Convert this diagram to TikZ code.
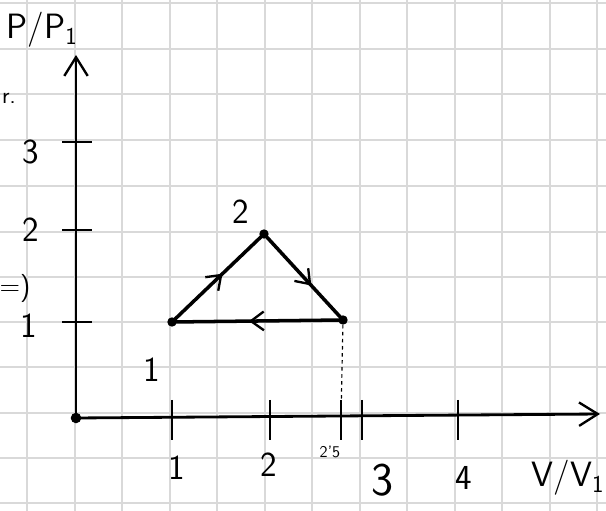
\documentclass[tikz,border=0pt]{standalone}
\usetikzlibrary{arrows.meta,decorations.markings}
\begin{document}
\begin{tikzpicture}[x=0.03cm,y=-0.03cm,
  gridline/.style={draw=black!15,line width=1pt},
  axisline/.style={line width=2.4pt,-{Straight Barb[length=16pt,width=20pt,line width=2pt]}},
  tickmark/.style={line width=2pt},
  cycleedge/.style={line width=3pt},
  statept/.style={circle,fill=black,inner sep=0pt,minimum size=8pt},
  hand/.style={font=\fontsize{30}{34}\selectfont\sffamily,inner sep=1pt},
  smallhand/.style={font=\fontsize{14}{16}\selectfont\sffamily,inner sep=1pt},
  midarrow/.style={postaction={decorate},decoration={markings,mark=at position #1 with {\arrow{Straight Barb[length=11pt,width=16pt,line width=2pt]}}}}
]
\useasboundingbox (0,0) rectangle (606,511);
\fill[white] (0,0) rectangle (606,511);
% grid
\foreach \gx in {27,75,122,170,217,265,312,360,407,455,502,550,597}
  \draw[gridline] (\gx,0) -- (\gx,511);
\foreach \gy in {3,49,94,140,186,232,277,322,367,413,458,503}
  \draw[gridline] (0,\gy) -- (606,\gy);
% axes
\coordinate (O) at (76,418);
\coordinate (ytop) at (76,55);
\coordinate (xend) at (600,414);
\draw[axisline] (O) -- (ytop);
\draw[axisline] (O) -- (xend);
\fill (O) circle (4.5pt);
% y ticks
\foreach \ty in {322,230,142}
  \draw[tickmark] (62,\ty) -- (92,\ty);
\node[hand] (y1) at (29,326) {1};
\node[hand] (y2) at (31,230) {2};
\node[hand] (y3) at (31,152) {3};
% x ticks
\foreach \tx in {172,270,341,362,458}
  \draw[tickmark] (\tx,400) -- (\tx,440);
\node[hand] (x1) at (177,468) {1};
\node[hand] (x2) at (269,465) {2};
\node[hand,font=\fontsize{40}{44}\selectfont\sffamily] (x3) at (383,480) {3};
\node[hand] (x4) at (464,478) {4};
\node[smallhand] (x25) at (330,452) {2'5};
% axis labels
\node[hand] (plab) at (42,30) {P/P$_{\mathsf{1}}$};
\node[hand] (vlab) at (568,478) {V/V$_{\mathsf{1}}$};
% stray marks at left edge
\node[hand,font=\fontsize{20}{22}\selectfont\sffamily] (m1) at (9,98) {r.};
\node[hand,font=\fontsize{24}{26}\selectfont\sffamily] (m2) at (15,288) {=)};
% states
\node[statept] (s1) at (172,322) {};
\node[statept] (s2) at (264,234) {};
\node[statept] (s3) at (343,320) {};
\node[hand] (l2) at (241,212) {2};
\node[hand] (l1) at (152,370) {1};
% cycle
\draw[cycleedge,midarrow=0.55] (s1.center) -- (s2.center);
\draw[cycleedge,midarrow=0.6] (s2.center) -- (s3.center);
\draw[cycleedge,midarrow=0.55] (s3.center) -- (s1.center);
% dashed projection
\coordinate (p25) at (341,418);
\draw[dashed,line width=1pt] (s3) -- (p25);
\end{tikzpicture}
\end{document}
